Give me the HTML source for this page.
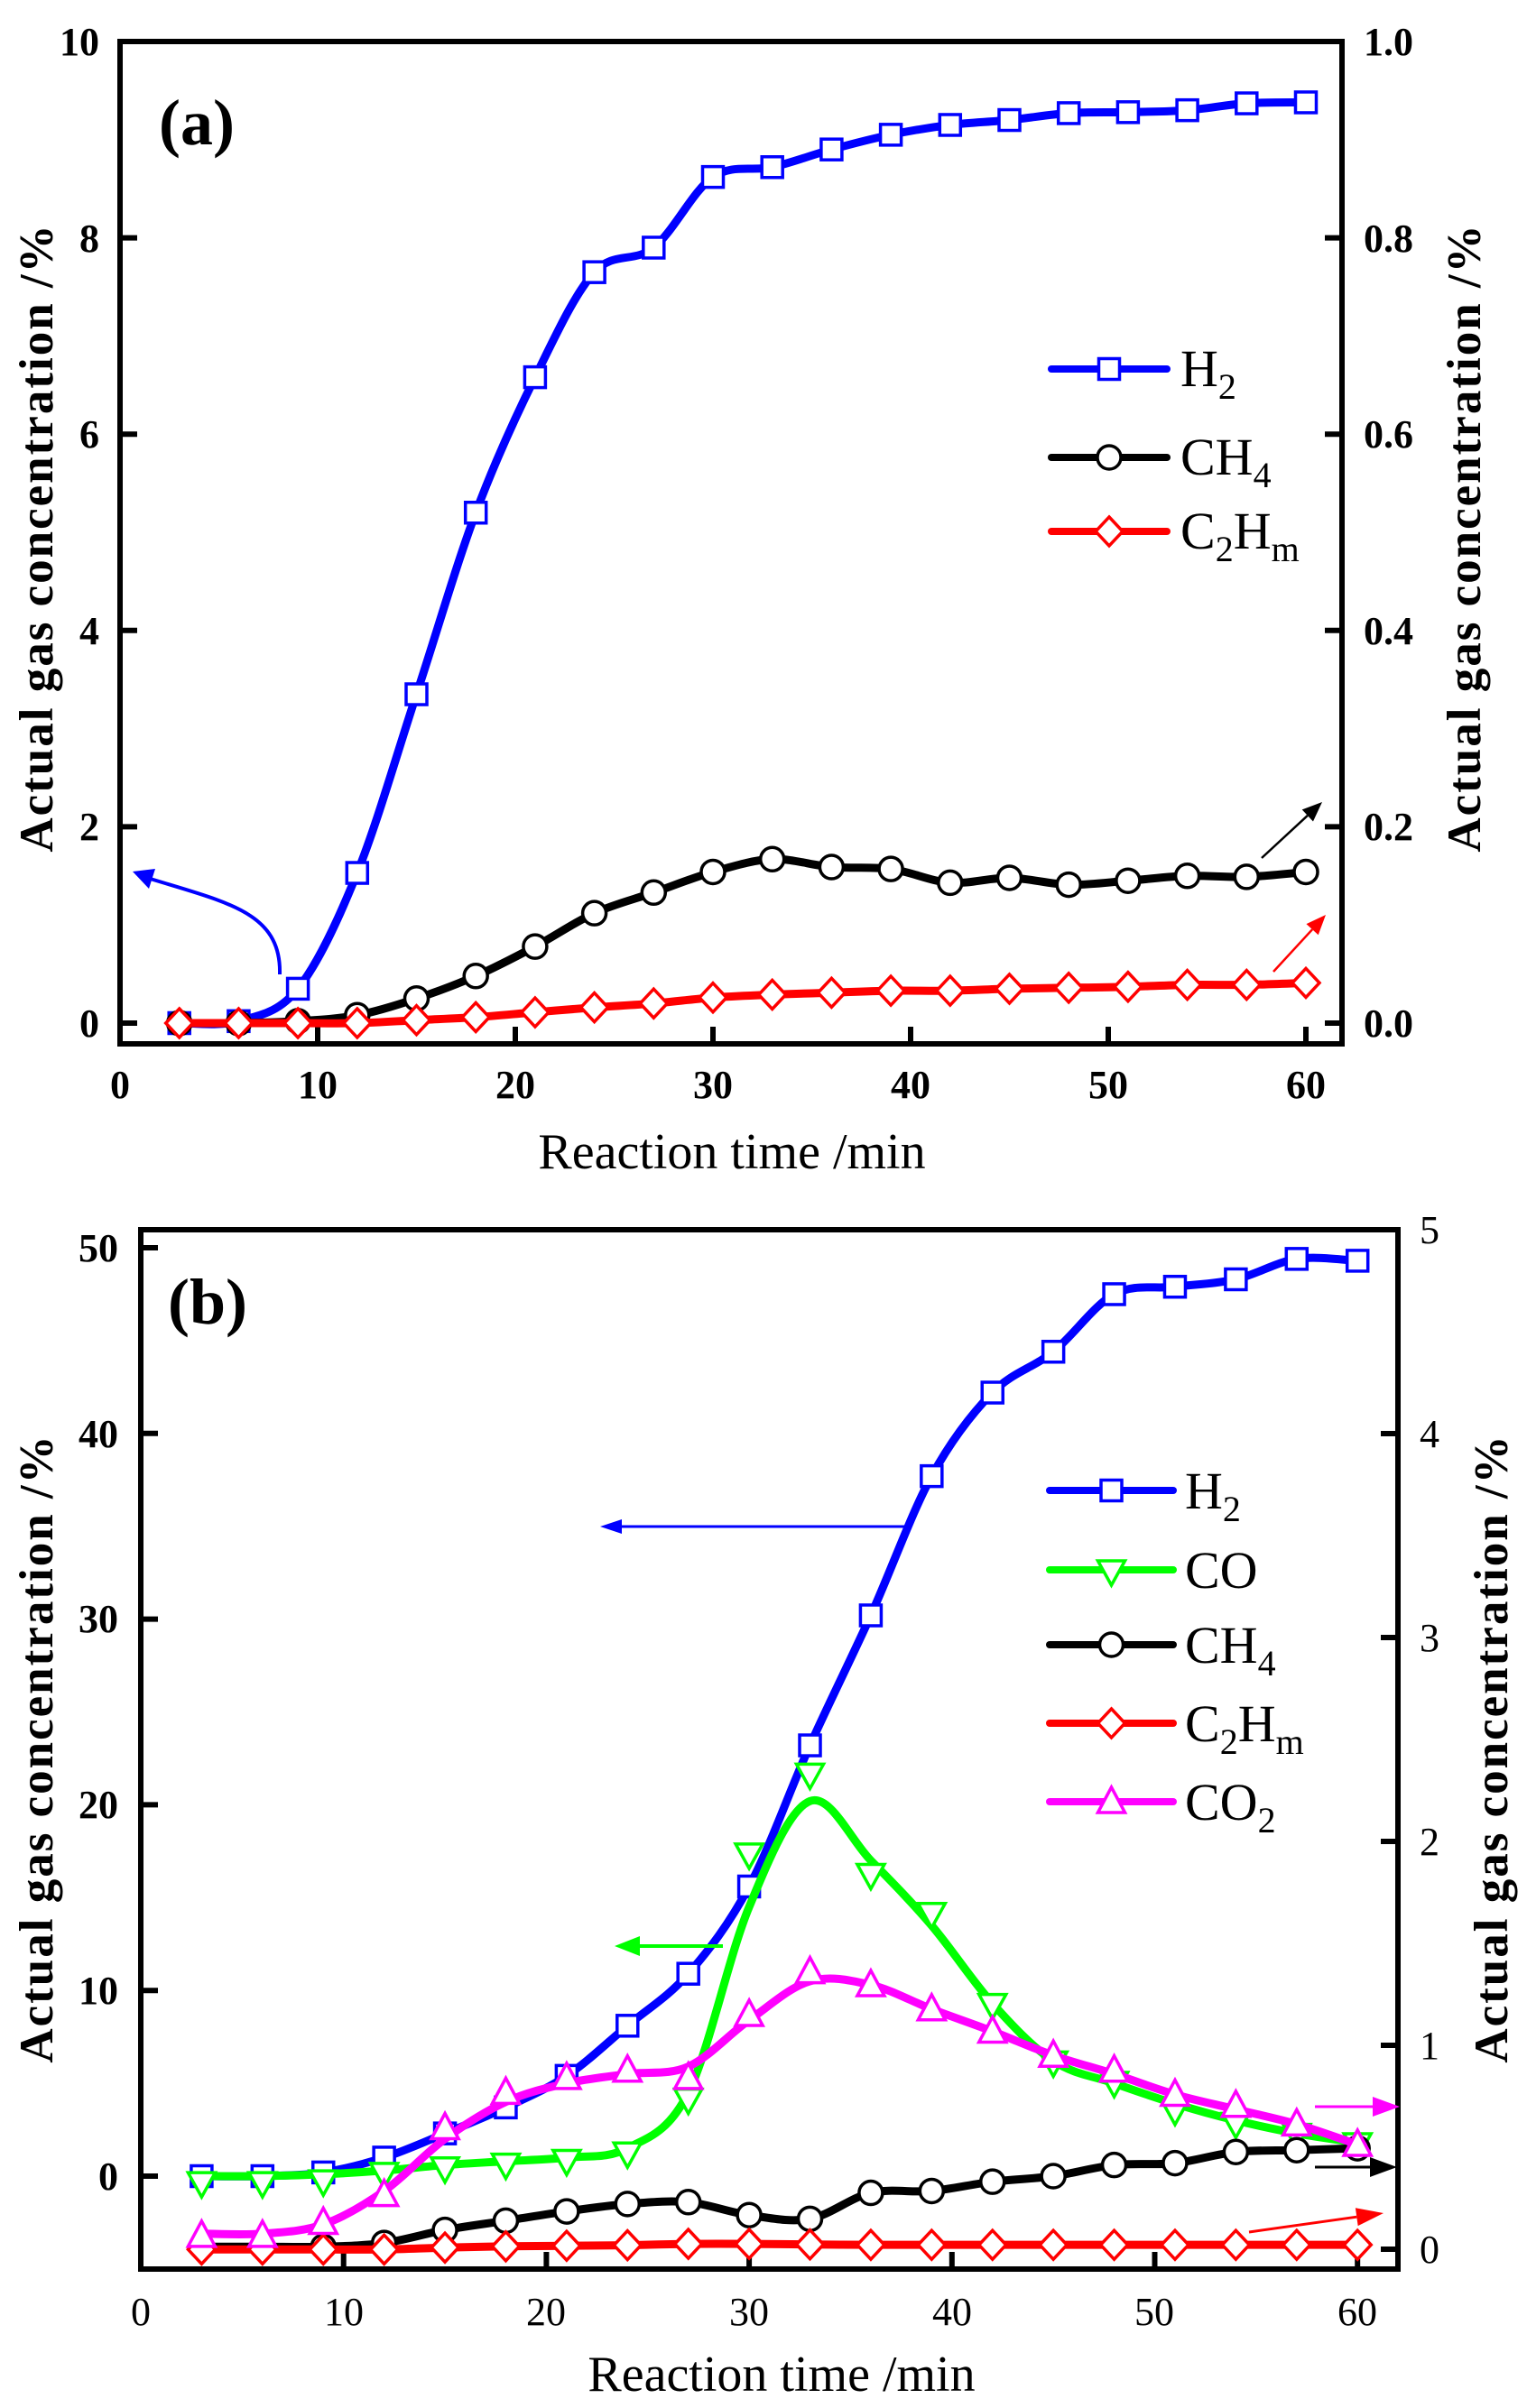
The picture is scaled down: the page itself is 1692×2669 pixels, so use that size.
<!DOCTYPE html>
<html><head><meta charset="utf-8"><style>
html,body{margin:0;padding:0;background:#fff;}
svg{display:block;font-family:"Liberation Serif","DejaVu Serif",serif;}
</style></head><body>
<svg id="s" width="1692" height="2669" viewBox="0 0 1692 2669" xmlns="http://www.w3.org/2000/svg">
<rect width="1692" height="2669" fill="#fff"/>
<g id="g"></g>
<g font-weight="bold" font-size="44" text-anchor="end">
<text x="110" y="1149">0</text><text x="110" y="931">2</text><text x="110" y="714">4</text><text x="110" y="496">6</text><text x="110" y="279">8</text><text x="110" y="61">10</text>
</g>
<g font-weight="bold" font-size="44" text-anchor="start">
<text x="1511" y="1149">0.0</text><text x="1511" y="931">0.2</text><text x="1511" y="714">0.4</text><text x="1511" y="496">0.6</text><text x="1511" y="279">0.8</text><text x="1511" y="61">1.0</text>
</g>
<g font-weight="bold" font-size="44" text-anchor="middle">
<text x="133" y="1217">0</text><text x="352" y="1217">10</text><text x="571" y="1217">20</text><text x="790" y="1217">30</text><text x="1009" y="1217">40</text><text x="1228" y="1217">50</text><text x="1447" y="1217">60</text>
</g>
<text x="811" y="1295" font-size="56" text-anchor="middle">Reaction time /min</text>
<text transform="translate(58,596) rotate(-90)" font-size="53" font-weight="bold" text-anchor="middle" letter-spacing="2">Actual gas concentration /%</text>
<text transform="translate(1640,596) rotate(-90)" font-size="53" font-weight="bold" text-anchor="middle" letter-spacing="2">Actual gas concentration /%</text>
<text x="176" y="160" font-size="72" font-weight="bold">(a)</text>
<g font-size="58">
<text x="1308" y="428">H<tspan font-size="40" dy="14">2</tspan></text>
<text x="1308" y="526">CH<tspan font-size="40" dy="14">4</tspan></text>
<text x="1308" y="608">C<tspan font-size="40" dy="14">2</tspan><tspan dy="-14">H</tspan><tspan font-size="40" dy="14">m</tspan></text>
</g>
<g font-weight="bold" font-size="44" text-anchor="end">
<text x="131" y="2427">0</text><text x="131" y="2221">10</text><text x="131" y="2015">20</text><text x="131" y="1809">30</text><text x="131" y="1604">40</text><text x="131" y="1398">50</text>
</g>
<g font-size="44" text-anchor="start">
<text x="1573" y="2508">0</text><text x="1573" y="2282">1</text><text x="1573" y="2056">2</text><text x="1573" y="1830">3</text><text x="1573" y="1604">4</text><text x="1573" y="1378">5</text>
</g>
<g font-size="44" text-anchor="middle">
<text x="156" y="2577">0</text><text x="381" y="2577">10</text><text x="605" y="2577">20</text><text x="830" y="2577">30</text><text x="1055" y="2577">40</text><text x="1279" y="2577">50</text><text x="1504" y="2577">60</text>
</g>
<text x="866" y="2650" font-size="56" text-anchor="middle">Reaction time /min</text>
<text transform="translate(58,1938) rotate(-90)" font-size="53" font-weight="bold" text-anchor="middle" letter-spacing="2">Actual gas concentration /%</text>
<text transform="translate(1670,1938) rotate(-90)" font-size="53" font-weight="bold" text-anchor="middle" letter-spacing="2">Actual gas concentration /%</text>
<text x="186" y="1467" font-size="72" font-weight="bold">(b)</text>
<g font-size="58">
<text x="1313" y="1672">H<tspan font-size="40" dy="14">2</tspan></text>
<text x="1313" y="1760">CO</text>
<text x="1313" y="1843">CH<tspan font-size="40" dy="14">4</tspan></text>
<text x="1313" y="1930">C<tspan font-size="40" dy="14">2</tspan><tspan dy="-14">H</tspan><tspan font-size="40" dy="14">m</tspan></text>
<text x="1313" y="2017">CO<tspan font-size="40" dy="14">2</tspan></text>
</g>
</svg>
<script>
var NS="http://www.w3.org/2000/svg",G=document.getElementById("g");
function el(t,a){var e=document.createElementNS(NS,t);for(var k in a)e.setAttribute(k,a[k]);G.appendChild(e);return e;}
function cr(p){var d="M"+p[0][0]+","+p[0][1];for(var i=0;i<p.length-1;i++){var p0=p[i-1]||p[i],p1=p[i],p2=p[i+1],p3=p[i+2]||p2;
var c1=[p1[0]+(p2[0]-p0[0])/6,p1[1]+(p2[1]-p0[1])/6],c2=[p2[0]-(p3[0]-p1[0])/6,p2[1]-(p3[1]-p1[1])/6];
d+=" C"+c1[0].toFixed(1)+","+c1[1].toFixed(1)+" "+c2[0].toFixed(1)+","+c2[1].toFixed(1)+" "+p2[0].toFixed(1)+","+p2[1].toFixed(1);}return d;}
function mk(type,x,y,c){var s=3.5;
if(type=="sq")el("rect",{x:x-11.5,y:y-11.5,width:23,height:23,fill:"#fff",stroke:c,"stroke-width":s});
else if(type=="ci")el("circle",{cx:x,cy:y,r:13,fill:"#fff",stroke:c,"stroke-width":s});
else if(type=="di")el("polygon",{points:[x,y-16,x+15,y,x,y+16,x-15,y].join(","),fill:"#fff",stroke:c,"stroke-width":s});
else if(type=="td")el("polygon",{points:[x-15,y-10,x+15,y-10,x,y+17].join(","),fill:"#fff",stroke:c,"stroke-width":s});
else if(type=="tu")el("polygon",{points:[x-15,y+12,x+15,y+12,x,y-16].join(","),fill:"#fff",stroke:c,"stroke-width":s});}
function series(X,Y,vals,lineVals,type,c){var xs=[];for(var i=0;i<vals.length;i++)xs.push(3+3*i);
var lp=xs.map(function(x,i){return [X(x),Y(lineVals[i])];});
el("path",{d:cr(lp),fill:"none",stroke:c,"stroke-width":9,"stroke-linejoin":"round"});
xs.forEach(function(x,i){mk(type,X(x),Y(vals[i]),c);});}
function frame(l,t,r,b,xt,X,yl,Yl,yr,Yr){
el("rect",{x:l,y:t,width:r-l,height:b-t,fill:"none",stroke:"#000","stroke-width":6});
xt.forEach(function(v){var x=X(v);if(v>0)el("line",{x1:x,y1:b,x2:x,y2:b-19,stroke:"#000","stroke-width":6});});
yl.forEach(function(v){var y=Yl(v);el("line",{x1:l,y1:y,x2:l+19,y2:y,stroke:"#000","stroke-width":6});});
yr.forEach(function(v){var y=Yr(v);el("line",{x1:r,y1:y,x2:r-19,y2:y,stroke:"#000","stroke-width":6});});}
function arrow(x1,y1,x2,y2,c,w,hl,hw){var dx=x2-x1,dy=y2-y1,L=Math.hypot(dx,dy),ux=dx/L,uy=dy/L;
var bx=x2-ux*hl,by=y2-uy*hl;el("line",{x1:x1,y1:y1,x2:bx,y2:by,stroke:c,"stroke-width":w});
el("polygon",{points:[x2,y2,bx-uy*hw,by+ux*hw,bx+uy*hw,by-ux*hw].join(","),fill:c});}
function leg(x1,x2,y,type,c){el("line",{x1:x1,y1:y,x2:x2,y2:y,stroke:c,"stroke-width":8,"stroke-linecap":"round"});mk(type,(x1+x2)/2,y,c);}
var Xa=function(x){return 133+21.9*x},Ya=function(y){return 1134-108.8*y};
frame(133,46,1487,1157,[0,10,20,30,40,50,60],Xa,[0,2,4,6,8,10],Ya,[0,0.2,0.4,0.6,0.8,1.0],function(v){return 1134-1088*v});
var h2a=[0,0.02,0.35,1.53,3.35,5.2,6.58,7.65,7.9,8.62,8.72,8.9,9.05,9.15,9.2,9.27,9.28,9.3,9.37,9.38];
var ch4a=[0,0,0.02,0.08,0.25,0.48,0.78,1.12,1.33,1.54,1.67,1.59,1.57,1.43,1.48,1.41,1.45,1.5,1.49,1.54];
var c2a=[0,0,0,0,0.03,0.06,0.11,0.16,0.2,0.26,0.29,0.31,0.33,0.33,0.35,0.36,0.37,0.39,0.39,0.41];
series(Xa,Ya,h2a,h2a,"sq","#0000ff");series(Xa,Ya,ch4a,ch4a,"ci","#000");series(Xa,Ya,c2a,c2a,"di","#ff0000");
el("path",{d:"M310,1080 C312,1010 250,1000 160,972",fill:"none",stroke:"#0000ff","stroke-width":4});
el("polygon",{points:"147,966 172,963 165,985",fill:"#0000ff"});
arrow(1398,951,1465,889,"#000",2.5,22,9);arrow(1411,1077,1469,1014,"#ff0000",2.5,22,9);
leg(1165,1293,409,"sq","#0000ff");leg(1165,1293,507,"ci","#000");leg(1165,1293,589,"di","#ff0000");
var Xb=function(x){return 156+22.47*x},Yb=function(y){return 2412-20.58*y};
frame(156,1363,1549,2515,[0,10,20,30,40,50,60],Xb,[0,10,20,30,40,50],Yb,[0,1,2,3,4,5],function(v){return 2493-226*v});
var h2b=[0,0,0.2,1,2.3,3.7,5.4,8.1,10.9,15.6,23.2,30.2,37.7,42.2,44.4,47.5,47.9,48.3,49.4,49.3];
var cob=[-0.3,-0.3,-0.2,0.2,0.5,0.7,0.9,1.3,4.2,17.4,21.7,16.3,14.2,9.3,6.2,5.1,3.6,2.9,2.3,1.8];
var col=[0,0,0.1,0.3,0.6,0.8,1.0,1.5,4.5,14.5,20.2,17.0,13.5,9.3,6.2,5.0,3.9,3.0,2.3,1.8];
var ch4b=[-3.8,-3.8,-3.8,-3.6,-2.9,-2.4,-1.9,-1.5,-1.4,-2.1,-2.3,-0.9,-0.8,-0.3,0,0.6,0.7,1.3,1.4,1.5];
var c2b=[-3.95,-3.95,-3.95,-3.95,-3.85,-3.78,-3.75,-3.72,-3.65,-3.65,-3.68,-3.7,-3.7,-3.7,-3.7,-3.7,-3.7,-3.7,-3.7,-3.7];
var co2b=[-3.2,-3.2,-2.5,-1.0,2.6,4.5,5.3,5.7,5.3,8.7,11,10.3,9,7.8,6.5,5.7,4.4,3.8,2.8,1.7];
var co2l=[-3.1,-3.1,-2.6,-0.8,2.0,4.0,5.0,5.5,5.9,8.4,10.5,10.3,9,7.8,6.5,5.5,4.4,3.6,2.8,1.7];
series(Xb,Yb,h2b,h2b,"sq","#0000ff");series(Xb,Yb,cob,col,"td","#00ff00");series(Xb,Yb,ch4b,ch4b,"ci","#000");
series(Xb,Yb,c2b,c2b,"di","#ff0000");series(Xb,Yb,co2b,co2l,"tu","#ff00ff");
arrow(1005,1692,665,1692,"#0000ff",3,24,8);arrow(801,2157,681,2157,"#00ff00",4,28,11);
arrow(1457,2335,1551,2335,"#ff00ff",3,30,11);arrow(1457,2402,1548,2402,"#000",3,30,11);arrow(1384,2474,1533,2453,"#ff0000",3,30,10);
leg(1163,1300,1652,"sq","#0000ff");leg(1163,1300,1740,"td","#00ff00");leg(1163,1300,1823,"ci","#000");leg(1163,1300,1910,"di","#ff0000");leg(1163,1300,1997,"tu","#ff00ff");
</script>
</body></html>
